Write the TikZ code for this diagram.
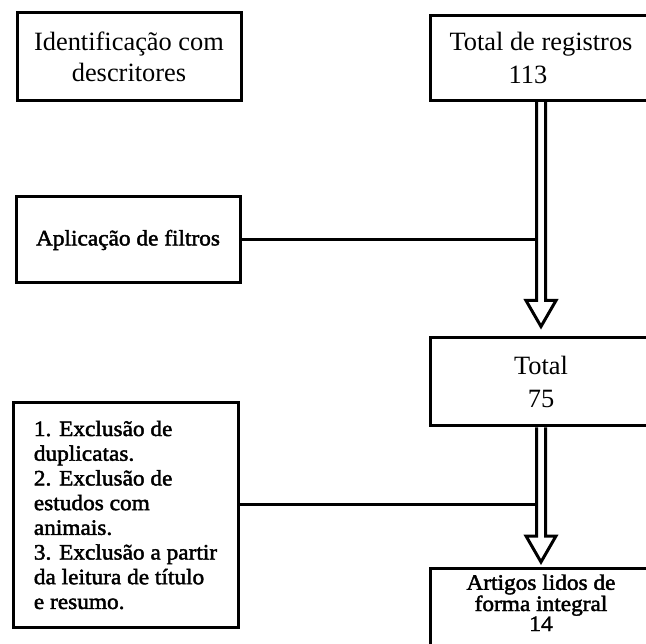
\documentclass[tikz,border=0pt]{standalone}
\usepackage{fontspec}
\setmainfont{Liberation Serif}
\newfontfamily\heavyfont{Liberation Serif}[FakeStretch=1.06, FakeBold=2]

\tikzset{
  frame/.style={draw, rectangle, line width=3pt, inner sep=0pt, align=center,
    font=\fontsize{26.4}{33}\selectfont},
  link/.style={line width=3pt},
  hollow/.style={line width=3pt, line join=miter},
}

\begin{document}
\begin{tikzpicture}[x=1pt,y=-1pt]
\useasboundingbox (0,0) rectangle (646,644);
\clip (0,0) rectangle (646,644);

% block arrow with open head, from #1 down to the tip #2
\def\hollowarrow#1#2{
\draw[hollow] ([xshift=-4.5pt]#1) -- ([xshift=-4.5pt,yshift=26pt]#2)
  -- ([xshift=-15pt,yshift=26pt]#2) -- (#2) -- ([xshift=15pt,yshift=26pt]#2)
  -- ([xshift=4.5pt,yshift=26pt]#2) -- ([xshift=4.5pt]#1);}

\node[frame, minimum width=224, minimum height=88,
  font=\fontsize{26.4}{31}\selectfont] (ident) at (129,57)
  {Identificação com\\descritores};
\node[frame, minimum width=222, minimum height=85] (reg) at (541,58)
  {Total de registros\\113\hspace*{26pt}};
\node[frame, minimum width=224, minimum height=86,
  font=\heavyfont\fontsize{22}{24}\selectfont] (filt) at (128,240)
  {Aplicação de filtros};
\node[frame, minimum width=222, minimum height=88] (tot) at (541,382)
  {Total\\75};
\node[frame, minimum width=225, minimum height=224, align=left,
  font=\heavyfont\fontsize{22}{24.7}\selectfont] (excl) at (125.5,515)
  {1. Exclusão de\\duplicatas.\\2. Exclusão de\\estudos com\\animais.\\
   3. Exclusão a partir\\da leitura de título\\e resumo.};
\node[frame, anchor=north, minimum width=222, inner ysep=6pt, text depth=60pt,
  font=\heavyfont\fontsize{22}{20}\selectfont] (art) at (541,567)
  {Artigos lidos de\\forma integral\\14};

% arrows down the right column
\coordinate (tip1) at ([yshift=10pt]tot.north);
\coordinate (tip2) at ([yshift=5pt]art.north);
\hollowarrow{reg.south}{tip1}
\hollowarrow{tot.south}{tip2}

% side lines into the arrows
\coordinate (sh1) at ([xshift=-4.5pt]reg.south);
\coordinate (sh2) at ([xshift=-4.5pt]tot.south);
\coordinate (exo) at ([yshift=10pt]excl.east);
\draw[link] (filt.east) -- (filt.east -| sh1);
\draw[link] (exo) -- (exo -| sh2);
\end{tikzpicture}
\end{document}
